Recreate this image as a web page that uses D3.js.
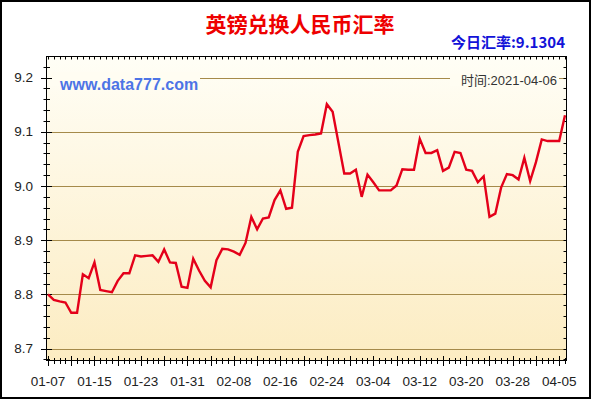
<!DOCTYPE html>
<html><head><meta charset="utf-8">
<script src="https://cdn.jsdelivr.net/npm/d3@7/dist/d3.min.js"></script>
<style>body{margin:0;background:#fff}svg{display:block}</style>
</head><body>
<svg id="c" width="600" height="400"></svg>
<script>
const title = "英镑兑换人民币汇率";
const todayLabel = "今日汇率:9.1304";
const timeLabel = "时间:2021-04-06";
const siteLabel = "www.data777.com";

const dates = [
 "01-07","01-08","01-09","01-10","01-11","01-12","01-13","01-14","01-15","01-16",
 "01-17","01-18","01-19","01-20","01-21","01-22","01-23","01-24","01-25","01-26",
 "01-27","01-28","01-29","01-30","01-31",
 "02-01","02-02","02-03","02-04","02-05","02-06","02-07","02-08","02-09","02-10",
 "02-11","02-12","02-13","02-14","02-15","02-16","02-17","02-18","02-19","02-20",
 "02-21","02-22","02-23","02-24","02-25","02-26","02-27","02-28",
 "03-01","03-02","03-03","03-04","03-05","03-06","03-07","03-08","03-09","03-10",
 "03-11","03-12","03-13","03-14","03-15","03-16","03-17","03-18","03-19","03-20",
 "03-21","03-22","03-23","03-24","03-25","03-26","03-27","03-28","03-29","03-30","03-31",
 "04-01","04-02","04-03","04-04","04-05","04-06"
];
const values = [
 8.800,8.790,8.787,8.785,8.766,8.766,8.837,8.830,8.859,8.808,
 8.806,8.804,8.825,8.839,8.839,8.872,8.870,8.871,8.872,8.860,
 8.883,8.859,8.858,8.814,8.812,8.866,8.844,8.825,8.813,8.863,
 8.884,8.883,8.879,8.873,8.895,8.943,8.920,8.940,8.942,8.974,
 8.992,8.958,8.960,9.063,9.092,9.094,9.095,9.097,9.151,9.137,
 9.080,9.023,9.023,9.030,8.980,9.021,9.007,8.992,8.992,8.992,
 9.001,9.031,9.030,9.030,9.087,9.061,9.061,9.066,9.028,9.034,
 9.063,9.061,9.030,9.028,9.007,9.018,8.943,8.949,8.997,9.022,
 9.020,9.012,9.052,9.009,9.044,9.086,9.083,9.083,9.083,9.1304
];
const yTickValues = [8.7, 8.8, 8.9, 9.0, 9.1, 9.2];
const yTickLabels = ["8.7","8.8","8.9","9.0","9.1","9.2"];
const xTickLabels = ["01-07","01-15","01-23","01-31","02-08","02-16","02-24","03-04","03-12","03-20","03-28","04-05"];

const svg = d3.select("#c");
const L = 46.5, R = 566.5, T = 56.5, B = 360.5;
const x = d3.scalePoint().domain(dates).range([48, 565]);
const y = d3.scaleLinear().domain([8.678, 9.239]).range([B, T]);

const defs = svg.append("defs");
const grad = defs.append("linearGradient").attr("id","bg").attr("x1",0).attr("y1",0).attr("x2",0).attr("y2",1);
grad.append("stop").attr("offset","0%").attr("stop-color","#fffef6");
grad.append("stop").attr("offset","100%").attr("stop-color","#fcecc2");

// outer frame
svg.append("rect").attr("x",1).attr("y",1).attr("width",589).attr("height",397)
  .attr("fill","#fff").attr("stroke","#000").attr("stroke-width",2);

// plot background
svg.append("rect").attr("x",L).attr("y",T).attr("width",R-L).attr("height",B-T).attr("fill","url(#bg)");

// grid lines
svg.append("g").selectAll("line").data(yTickValues).join("line")
  .attr("x1",L).attr("x2",R).attr("y1",d=>Math.round(y(d))+0.5).attr("y2",d=>Math.round(y(d))+0.5)
  .attr("stroke","#a58a4a").attr("stroke-width",1);

// text masks
svg.append("rect").attr("x",50).attr("y",72).attr("width",150).attr("height",14).attr("fill","#fffdf2");
svg.append("rect").attr("x",450).attr("y",74).attr("width",109).attr("height",12).attr("fill","#fffdf2");

svg.append("text").attr("x",60).attr("y",90).text(siteLabel)
  .attr("font-family","'Liberation Sans',Arial,sans-serif").attr("font-weight","bold").attr("font-size",16).attr("fill","#4d74e6");
svg.append("text").attr("x",557).attr("y",85).attr("text-anchor","end").text(timeLabel)
  .attr("font-family","'Liberation Sans','Noto Sans CJK SC',sans-serif").attr("font-size",13).attr("fill","#333");

// frame of plot
svg.append("rect").attr("x",L).attr("y",T).attr("width",R-L).attr("height",B-T)
  .attr("fill","none").attr("stroke","#000").attr("stroke-width",1);

// minor y positions
const yMinor = d3.range(434, 462).map(k => k/50);
const axisG = svg.append("g").attr("stroke","#000").attr("stroke-width",1);
axisG.selectAll("line.ly").data(yMinor).join("line").attr("class","ly")
  .attr("x1", d => (Math.round(d*10) === d*10 ? 41 : 43.5))
  .attr("x2", d => (Math.round(d*10) === d*10 ? 52 : 50))
  .attr("y1", d => Math.round(y(d))+0.5).attr("y2", d => Math.round(y(d))+0.5);
axisG.selectAll("line.ry").data(yMinor).join("line").attr("class","ry")
  .attr("x1", R-3).attr("x2", R)
  .attr("y1", d => Math.round(y(d))+0.5).attr("y2", d => Math.round(y(d))+0.5);
axisG.selectAll("line.bx").data(dates).join("line").attr("class","bx")
  .attr("x1", d => Math.round(x(d))+0.5).attr("x2", d => Math.round(x(d))+0.5)
  .attr("y1", (d,i) => i%4===0 ? 356 : 358)
  .attr("y2", (d,i) => i%4===0 ? 366 : 364);
axisG.selectAll("line.tx").data(dates).join("line").attr("class","tx")
  .attr("x1", d => Math.round(x(d))+0.5).attr("x2", d => Math.round(x(d))+0.5)
  .attr("y1", T).attr("y2", T+3);

// y labels
svg.append("g").selectAll("text").data(yTickValues).join("text")
  .attr("x",33).attr("y",d=>y(d)+4.5).attr("text-anchor","end")
  .attr("font-family","'Liberation Sans',Arial,sans-serif").attr("font-size",13.5).attr("fill","#222")
  .text((d,i)=>yTickLabels[i]);
// x labels
svg.append("g").selectAll("text").data(xTickLabels).join("text")
  .attr("x",d=>x(d)).attr("y",386).attr("text-anchor","middle")
  .attr("font-family","'Liberation Sans',Arial,sans-serif").attr("font-size",13.5).attr("fill","#222")
  .text(d=>d);

// line
const line = d3.line().x((d,i)=>x(dates[i])).y(d=>y(d));
svg.append("path").datum(values).attr("d",line).attr("fill","none")
  .attr("stroke","#e4001a").attr("stroke-width",2.4).attr("stroke-linejoin","miter");

// titles
svg.append("text").attr("x",300).attr("y",32).attr("text-anchor","middle").text(title)
  .attr("font-family","'Noto Sans CJK SC',sans-serif").attr("font-weight","bold").attr("font-size",21).attr("fill","#ee0000");
svg.append("text").attr("x",565).attr("y",48).attr("text-anchor","end").text(todayLabel)
  .attr("font-family","'Noto Sans CJK SC',sans-serif").attr("font-weight","bold").attr("font-size",15).attr("fill","#1212d8");
</script>
</body></html>
